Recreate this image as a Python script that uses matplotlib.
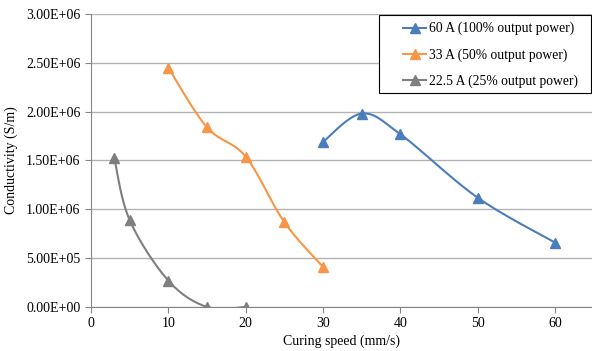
import matplotlib
matplotlib.use("Agg")
import matplotlib.pyplot as plt
from matplotlib.patches import Rectangle
import numpy as np

plt.rcParams['font.family'] = ['Liberation Serif', 'DejaVu Serif']

speed_60 = [30, 35, 40, 50, 60]
cond_60 = [1.69e6, 1.98e6, 1.77e6, 1.12e6, 0.66e6]
speed_33 = [10, 15, 20, 25, 30]
cond_33 = [2.45e6, 1.84e6, 1.54e6, 0.87e6, 0.41e6]
speed_22 = [3, 5, 10, 15, 20]
cond_22 = [1.53e6, 0.89e6, 0.27e6, 0.0, 0.0]

labels = ["60 A (100% output power)", "33 A (50% output power)", "22.5 A (25% output power)"]
colors = ["#4a7ebb", "#f79646", "#7f7f7f"]


def smooth(x, y, n=30):
    # excel-like smoothed line: bezier segments with catmull-rom control points
    x = np.asarray(x, float)
    y = np.asarray(y, float)
    px, py = [], []
    for i in range(len(x) - 1):
        x0, y0 = (x[i - 1], y[i - 1]) if i > 0 else (x[i], y[i])
        x3, y3 = (x[i + 2], y[i + 2]) if i + 2 < len(x) else (x[i + 1], y[i + 1])
        c1x = x[i] + (x[i + 1] - x0) / 6
        c1y = y[i] + (y[i + 1] - y0) / 6
        c2x = x[i + 1] - (x3 - x[i]) / 6
        c2y = y[i + 1] - (y3 - y[i]) / 6
        t = np.linspace(0, 1, n)
        b0, b1, b2, b3 = (1 - t) ** 3, 3 * t * (1 - t) ** 2, 3 * t ** 2 * (1 - t), t ** 3
        px.extend(b0 * x[i] + b1 * c1x + b2 * c2x + b3 * x[i + 1])
        py.extend(b0 * y[i] + b1 * c1y + b2 * c2y + b3 * y[i + 1])
    return px, py


W, H = 592, 351
fig = plt.figure(figsize=(W / 100, H / 100), dpi=100)
ax = fig.add_axes([0.1537, 0.1254, 0.8463, 0.8347])

for xs, ys, c, lab in zip([speed_60, speed_33, speed_22], [cond_60, cond_33, cond_22], colors, labels):
    sx, sy = smooth(xs, ys)
    ax.plot(sx, sy, color=c, lw=1.5, zorder=3)
    ax.plot(xs, ys, ls='none', marker='^', ms=7, color=c, zorder=4)
    ax.plot([], [], color=c, lw=1.5, marker='^', ms=7, label=lab)

ax.set_xlim(0, 64.8)
ax.set_ylim(0, 3.0e6)
ax.set_xticks([0, 10, 20, 30, 40, 50, 60])
ax.set_yticks(np.arange(0, 3.01e6, 0.5e6))
ax.set_yticklabels(["0.00E+00", "5.00E+05", "1.00E+06", "1.50E+06", "2.00E+06", "2.50E+06", "3.00E+06"])
ax.yaxis.grid(True, color="#b3b3b3", lw=1)
ax.set_axisbelow(True)
for s in ["top", "right"]:
    ax.spines[s].set_visible(False)
for s in ["left", "bottom"]:
    ax.spines[s].set_color("#868686")
ax.tick_params(colors="#868686", labelcolor="black", labelsize=10, length=4, direction='out')
ax.set_xlabel("Curing speed (mm/s)", fontsize=10, labelpad=3)
ax.set_ylabel("Conductivity (S/m)", fontsize=10, labelpad=6)

# legend box drawn by hand so the padding looks like excel's
box = Rectangle((379 / W, 1 - 93 / H), 212 / W, 78 / H, transform=fig.transFigure,
                facecolor="white", edgecolor="black", lw=0.8, zorder=4.5, clip_on=False)
ax.add_patch(box)
leg = ax.legend(loc='upper left', bbox_to_anchor=(403 / W, 1 - 22 / H), bbox_transform=fig.transFigure,
                borderaxespad=0, borderpad=0, fontsize=9.8, frameon=False,
                labelspacing=0.95, handlelength=1.7, handletextpad=0.2)

fig.savefig("out.png", dpi=100)
